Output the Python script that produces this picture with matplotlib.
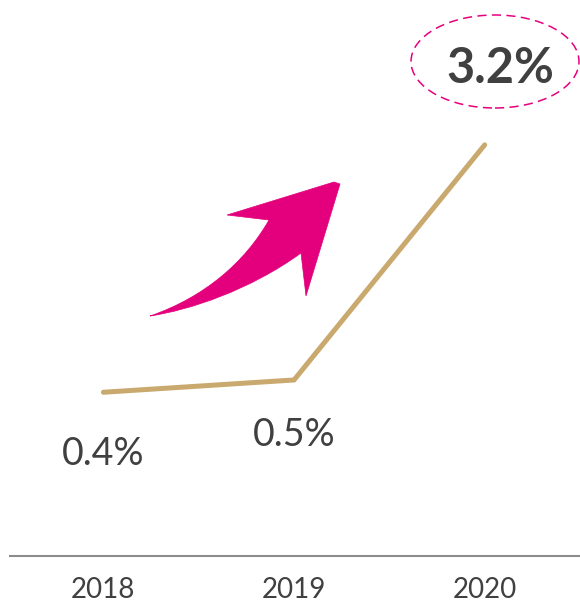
import matplotlib
matplotlib.use("Agg")
import matplotlib.pyplot as plt
import numpy as np
from matplotlib.path import Path
from matplotlib.patches import PathPatch, Ellipse

# ---- data ----
years = ["2018", "2019", "2020"]
growth = [0.4, 0.5, 3.2]
value_labels = ["0.4%", "0.5%", "3.2%"]

# ---- styles ----
LINE_COLOR = "#C9A96E"
TEXT_COLOR = "#404040"
PINK = "#E4007C"
AXIS_COLOR = "#8C8C8C"
FONT = ["Lato", "DejaVu Sans"]

W, H = 580, 602
fig = plt.figure(figsize=(W / 100, H / 100), dpi=100)
fig.patch.set_facecolor("white")

def fx(px):
    return px / W

def fy(py):
    return 1 - py / H

axis_y_px = 556
ax = fig.add_axes([fx(10), fy(axis_y_px), 1 - fx(10), axis_y_px / H])

P = 0.73
def fwd(v):
    v = np.asarray(v, dtype=float)
    return np.sign(v) * np.abs(v) ** P

def inv(v):
    v = np.asarray(v, dtype=float)
    return np.sign(v) * np.abs(v) ** (1 / P)

ax.set_yscale("function", functions=(fwd, inv))

x = np.arange(len(years))
ax.plot(x, growth, color=LINE_COLOR, lw=3.6, solid_capstyle="round",
        solid_joinstyle="miter")

ax.set_xlim(-0.49, 2.5)
ax.set_ylim(-0.6085, 5.36)

for s in ["top", "right", "left"]:
    ax.spines[s].set_visible(False)
ax.spines["bottom"].set_color(AXIS_COLOR)
ax.spines["bottom"].set_linewidth(1.5)
ax.set_yticks([])
ax.set_xticks(x)
ax.set_xticklabels(years, fontsize=20, color=TEXT_COLOR, family=FONT)
ax.tick_params(axis="x", length=0, pad=15)
ax.patch.set_alpha(0)

# value labels (offsets in pixels, baseline-aligned)
offsets = [(0, -73), (0, -66), (16, 62)]
weights = ["normal", "normal", "bold"]
sizes = [27, 27, 35]
for xi, yi, lab, off, w, s in zip(x, growth, value_labels, offsets, weights, sizes):
    ax.annotate(lab, xy=(xi, yi), xytext=off, textcoords="offset pixels",
                ha="center", va="baseline", fontsize=s, fontweight=w,
                color=TEXT_COLOR, family=FONT)

# dashed ellipse around highlighted value
ell = Ellipse((fx(495), fy(61.5)), 168 / W, 93 / H, transform=fig.transFigure,
              fill=False, edgecolor="#E6007E", lw=1.1, linestyle=(0, (6, 3.5)))
fig.patches.append(ell)

# curved pink arrow (decoration)
pts = [
    (150, 316),
    (205, 297), (245, 262), (269, 220),
    (227, 215),
    (334, 182),
    (340, 184),
    (306, 296),
    (301, 253),
    (250, 290), (190, 310), (150, 316),
]
codes = [Path.MOVETO,
         Path.CURVE4, Path.CURVE4, Path.CURVE4,
         Path.LINETO,
         Path.LINETO,
         Path.LINETO,
         Path.LINETO,
         Path.LINETO,
         Path.CURVE4, Path.CURVE4, Path.CURVE4]
verts = [(fx(px), fy(py)) for px, py in pts]
arrow = PathPatch(Path(verts, codes), facecolor=PINK, edgecolor=PINK, lw=0.5,
                  transform=fig.transFigure)
fig.patches.append(arrow)

fig.savefig("out.png", dpi=100, facecolor="white")
